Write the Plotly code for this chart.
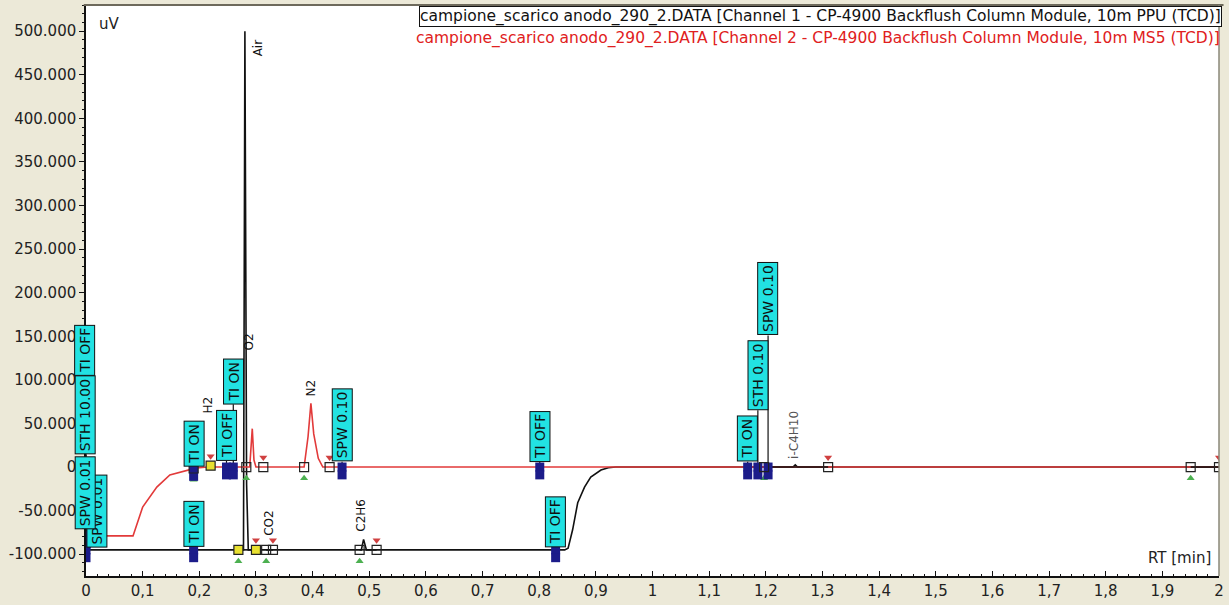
import numpy as np
import plotly.graph_objects as go

# ---------------- data ----------------
# Channel 1 - CP-4900 Backflush Column Module, 10m PPU (TCD)
ch1_rt = [0.000, 0.278, 0.2805, 0.2835, 0.2865, 0.486, 0.490, 0.495, 0.845, 0.851,
          0.859, 0.868, 0.880, 0.891, 0.909, 0.922, 0.935, 1.248, 1.252, 1.256, 2.000]
ch1_uv = [-95000, -95000, 500000, -20000, -95000, -95000, -83000, -95000, -95000, -93000,
          -72000, -41000, -23000, -11500, -3400, -800, 0, 0, 2500, 0, 0]

# Channel 2 - CP-4900 Backflush Column Module, 10m MS5 (TCD)
ch2_rt = [0.000, 0.083, 0.100, 0.125, 0.148, 0.178, 0.195, 0.214, 0.218, 0.222,
          0.289, 0.2935, 0.2965, 0.300, 0.385, 0.392, 0.397, 0.402, 0.410, 0.418, 2.000]
ch2_uv = [-79000, -79000, -46000, -23000, -9000, -3400, -1000, 0, 3000, 0,
          0, 44000, 8000, 0, 0, 35000, 73000, 38000, 10000, 0, 0]

# timed integration events
event_names = ["SPW 0.01", "SPW 0.01", "STH 10.00", "TI OFF", "TI ON", "TI ON", "TI OFF",
               "TI ON", "SPW 0.10", "TI OFF", "TI OFF", "TI ON", "STH 0.10", "SPW 0.10"]
event_rt = [0.000, 0.000, 0.000, 0.000, 0.190, 0.190, 0.248,
            0.260, 0.452, 0.801, 0.829, 1.168, 1.186, 1.204]
event_channel = [1, 2, 2, 2, 2, 1, 2, 2, 2, 2, 1, 2, 2, 2]

# integrated peaks (start / end retention times)
peak_start_rt = [0.190, 0.283, 0.385, 0.269, 0.318, 0.483, 1.197, 1.950]
peak_end_rt = [0.220, 0.313, 0.430, 0.300, 0.330, 0.513, 1.310, 2.000]
peak_channel = [2, 2, 2, 1, 1, 1, 1, 1]
forced_points_rt = [0.220, 0.269, 0.300]

# identified components
peak_names = ["H2", "Air", "O2", "CO2", "N2", "C2H6", "i-C4H10"]
peak_rt = [0.216, 0.303, 0.288, 0.323, 0.397, 0.485, 1.250]

# axis ticks
x_tick_vals = [0, 0.1, 0.2, 0.3, 0.4, 0.5, 0.6, 0.7, 0.8, 0.9, 1.0,
               1.1, 1.2, 1.3, 1.4, 1.5, 1.6, 1.7, 1.8, 1.9, 2.0]
x_tick_text = ["0", "0,1", "0,2", "0,3", "0,4", "0,5", "0,6", "0,7", "0,8", "0,9", "1",
               "1,1", "1,2", "1,3", "1,4", "1,5", "1,6", "1,7", "1,8", "1,9", "2"]
y_tick_vals = [-100000, -50000, 0, 50000, 100000, 150000, 200000, 250000,
               300000, 350000, 400000, 450000, 500000]
y_tick_text = ["-100.000", "-50.000", "0", "50.000", "100.000", "150.000", "200.000",
               "250.000", "300.000", "350.000", "400.000", "450.000", "500.000"]

title_ch1 = ("campione_scarico anodo_290_2.DATA [Channel 1 - CP-4900 Backflush Column "
             "Module, 10m PPU (TCD)]")
title_ch2 = ("campione_scarico anodo_290_2.DATA [Channel 2 - CP-4900 Backflush Column "
             "Module, 10m MS5 (TCD)]")

# ---------------- styling ----------------
FONT = "DejaVu Sans"
RED = "#E23A3A"
CYAN = "#22E2E2"
NAVY = "#1C1C8A"
BEIGE = "#ECE9D8"

channels = {1: (np.array(ch1_rt), np.array(ch1_uv)), 2: (np.array(ch2_rt), np.array(ch2_uv))}


def signal(ch, rt):
    xs, ys = channels[ch]
    return float(np.interp(rt, xs, ys))


fig = go.Figure()

fig.add_trace(go.Scatter(x=ch1_rt, y=ch1_uv, mode="lines",
                         line=dict(color="#111111", width=1.6), hoverinfo="skip"))
fig.add_trace(go.Scatter(x=ch2_rt, y=ch2_uv, mode="lines",
                         line=dict(color=RED, width=1.6), hoverinfo="skip"))

# channel 1 integration baselines
bx, by = [], []
for s, e, ch in zip(peak_start_rt, peak_end_rt, peak_channel):
    if ch == 1:
        bx += [s, e, None]
        by += [signal(1, s), signal(1, e), None]
fig.add_trace(go.Scatter(x=bx, y=by, mode="lines",
                         line=dict(color="#111111", width=1.6), hoverinfo="skip"))

# placement of event boxes: bottom edge in uV and sideways pixel shift
event_box_bottom = [-93000, -72000, 14000, 104000, 0, -92000, 7000,
                    72000, 6000, 6000, -92000, 6000, 65000, 151000]
event_box_shift = [11, -1, -1, -1, 0, 0, 0, 0, 0, 0, 0, 0, 0, 0]

# leader lines from event boxes to the trace
lx, ly = [], []
for rt, ch, yb in zip(event_rt, event_channel, event_box_bottom):
    lx += [rt, rt, None]
    ly += [signal(ch, rt), yb, None]
fig.add_trace(go.Scatter(x=lx, y=ly, mode="lines",
                         line=dict(color="#111111", width=1.2), hoverinfo="skip"))

# peak start / end pins
sx = peak_start_rt
sy = [signal(c, r) for r, c in zip(peak_start_rt, peak_channel)]
ex = peak_end_rt
ey = [signal(c, r) for r, c in zip(peak_end_rt, peak_channel)]
fig.add_trace(go.Scatter(x=sx, y=[v - 13000 for v in sy], mode="markers",
                         marker=dict(symbol="triangle-up", size=7, color="#4CB050"),
                         hoverinfo="skip"))
fig.add_trace(go.Scatter(x=ex, y=[v + 11000 for v in ey], mode="markers",
                         marker=dict(symbol="triangle-down", size=7, color="#D04040"),
                         hoverinfo="skip"))

# event markers (tall navy blocks)
mx = event_rt
my = [signal(c, r) for r, c in zip(event_rt, event_channel)]
for dy in (0, -9000):
    fig.add_trace(go.Scatter(x=mx, y=[v + dy for v in my], mode="markers",
                             marker=dict(symbol="square", size=9, color=NAVY,
                                         line=dict(width=0)),
                             hoverinfo="skip"))

# peak boundary squares
fill = ["#E8E030" if r in forced_points_rt else "rgba(255,255,255,0)" for r in sx + ex]
fig.add_trace(go.Scatter(x=sx + ex, y=sy + ey, mode="markers",
                         marker=dict(symbol="square", size=9, color=fill,
                                     line=dict(color="#222222", width=1.2)),
                         hoverinfo="skip"))

annotations = []

# event boxes (drawn in list order so the stacked boxes sit on top)
for name, rt, yb, sh in zip(event_names, event_rt, event_box_bottom, event_box_shift):
    annotations.append(dict(
        x=rt, y=yb, xref="x", yref="y", text=name, showarrow=False, xshift=sh,
        textangle=-90, xanchor="center", yanchor="bottom",
        font=dict(family=FONT, size=14, color="#101010"),
        bgcolor=CYAN, bordercolor="#111111", borderwidth=1, borderpad=2, height=15))

# component labels
peak_label_y = [71000, 481000, 143000, -64000, 91000, -55000, 37000]
for name, rt, yl in zip(peak_names, peak_rt, peak_label_y):
    annotations.append(dict(
        x=rt, y=yl, xref="x", yref="y", text=name, showarrow=False,
        textangle=-90, xanchor="center", yanchor="middle",
        font=dict(family=FONT, size=12,
                  color="#555555" if name.startswith("i-") else "#111111")))

# channel captions
annotations.append(dict(x=1.0025, y=0.979, xref="paper", yref="paper", text=title_ch1,
                        showarrow=False, xanchor="right", yanchor="middle",
                        font=dict(family=FONT, size=15.5, color="#111111"),
                        bordercolor="#111111", borderwidth=1, borderpad=0,
                        bgcolor="white"))
annotations.append(dict(x=1.0025, y=0.942, xref="paper", yref="paper", text=title_ch2,
                        showarrow=False, xanchor="right", yanchor="middle",
                        font=dict(family=FONT, size=15.5, color="#E02020")))

# axis units
annotations.append(dict(x=0.0097, y=0.986, xref="paper", yref="paper", text="uV",
                        showarrow=False, xanchor="left", yanchor="top",
                        font=dict(family=FONT, size=15, color="#222222")))
annotations.append(dict(x=0.995, y=0.012, xref="paper", yref="paper", text="RT [min]",
                        showarrow=False, xanchor="right", yanchor="bottom",
                        font=dict(family=FONT, size=15, color="#222222")))

fig.update_layout(
    width=1229, height=605,
    margin=dict(l=86, r=5, t=5, b=29),
    paper_bgcolor=BEIGE, plot_bgcolor="white",
    showlegend=False,
    annotations=annotations,
    shapes=[
        dict(type="line", xref="paper", yref="paper", x0=-0.002, x1=1.004, y0=1.0, y1=1.0,
             line=dict(color="#6E6A5C", width=2)),
        dict(type="line", xref="paper", yref="paper", x0=1.0, x1=1.0, y0=0, y1=1.0,
             line=dict(color="#8A8778", width=1.5)),
    ],
    xaxis=dict(range=[0, 2.0], tickvals=x_tick_vals, ticktext=x_tick_text,
               showgrid=False, zeroline=False, showline=True, linecolor="#111111",
               linewidth=1.5, ticks="inside", ticklen=5, tickcolor="#111111",
               minor=dict(dtick=0.02, tick0=0, ticks="inside", ticklen=2,
                          tickcolor="#111111"),
               tickfont=dict(family=FONT, size=15, color="#222222")),
    yaxis=dict(range=[-125000, 530000], tickvals=y_tick_vals, ticktext=y_tick_text,
               showgrid=False, zeroline=False, showline=True, linecolor="#111111",
               linewidth=1.5, ticks="outside", ticklen=5, tickcolor="#111111",
               minor=dict(dtick=10000, tick0=0, ticks="outside", ticklen=2,
                          tickcolor="#111111"),
               tickfont=dict(family=FONT, size=15, color="#222222")),
)

fig.write_html("out.html")
